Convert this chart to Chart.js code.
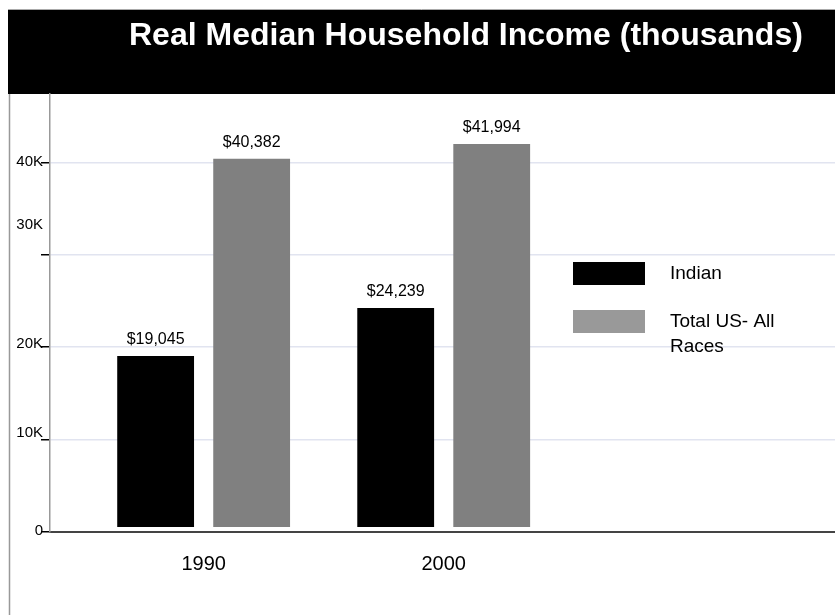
<!DOCTYPE html>
<html>
<head>
<meta charset="utf-8">
<script src="https://cdn.jsdelivr.net/npm/chart.js@4.4.1/dist/chart.umd.min.js"></script>
<style>
  body { margin: 0; background: #fff; }
</style>
</head>
<body>
<canvas id="incomeChart" width="835" height="615"></canvas>
<script>
// data
var years = [1990, 2000];
var indianIncome = [19045, 24239];
var totalUsIncome = [40382, 41994];
var seriesNames = ['Indian', 'Total US- All Races'];
var yTickValues = [0, 10000, 20000, 30000, 40000];
var yTickLabels = ['0', '10K', '20K', '30K', '40K'];
var chartTitle = 'Real Median Household Income (thousands)';

var FONT = '"Liberation Sans", Arial, sans-serif';
// the original puts some y labels a bit off their tick
var yLabelNudge = [-1, -7, -3, -30, -1];

function money(v) {
  return '$' + v.toLocaleString('en-US');
}

// black title band, outer frame line, title text
var frame = {
  id: 'frame',
  beforeDraw: function(chart) {
    var ctx = chart.ctx;
    ctx.save();
    ctx.fillStyle = '#000';
    ctx.fillRect(8, 10, chart.width - 8, 84);
    ctx.strokeStyle = '#aaa';
    ctx.lineWidth = 1;
    ctx.beginPath();
    ctx.moveTo(8, 9.5); ctx.lineTo(chart.width, 9.5);
    ctx.stroke();
    ctx.lineWidth = 1.5;
    ctx.strokeStyle = '#999';
    ctx.beginPath();
    ctx.moveTo(9.5, 94); ctx.lineTo(9.5, chart.height);
    ctx.stroke();

    ctx.fillStyle = '#fff';
    ctx.font = 'bold 32px ' + FONT;
    ctx.textAlign = 'left';
    ctx.textBaseline = 'middle';
    ctx.fillText(chartTitle, 129, 36);
    ctx.restore();
  }
};

// y labels, value labels above bars, legend on the right
var extras = {
  id: 'extras',
  afterDraw: function(chart) {
    var ctx = chart.ctx;
    var y = chart.scales.y;
    ctx.save();
    ctx.fillStyle = '#000';
    ctx.font = '15px ' + FONT;
    ctx.textAlign = 'right';
    ctx.textBaseline = 'middle';
    for (var i = 0; i < yTickValues.length; i++) {
      ctx.fillText(yTickLabels[i], 43, y.getPixelForValue(yTickValues[i]) + yLabelNudge[i]);
    }

    ctx.font = '16px ' + FONT;
    ctx.textAlign = 'center';
    ctx.textBaseline = 'bottom';
    chart.data.datasets.forEach(function(ds, di) {
      var meta = chart.getDatasetMeta(di);
      meta.data.forEach(function(bar, j) {
        ctx.fillText(money(ds.data[j].y), bar.x, bar.y - 8);
      });
    });

    // legend
    var legendTop = [262, 310];
    ctx.font = '19px ' + FONT;
    ctx.textAlign = 'left';
    ctx.textBaseline = 'middle';
    chart.data.datasets.forEach(function(ds, di) {
      ctx.fillStyle = ds.legendColor;
      ctx.fillRect(573, legendTop[di], 72, 23);
      ctx.fillStyle = '#000';
      var words = ds.label.split(' ');
      var lines = [];
      var line = '';
      words.forEach(function(w) {
        var test = line ? line + ' ' + w : w;
        if (line && ctx.measureText(test).width > 125) {
          lines.push(line);
          line = w;
        } else {
          line = test;
        }
      });
      lines.push(line);
      lines.forEach(function(t, k) {
        ctx.fillText(t, 670, legendTop[di] + 11.5 + k * 25);
      });
    });
    ctx.restore();
  }
};

new Chart(document.getElementById('incomeChart'), {
  type: 'bar',
  data: {
    datasets: [
      {
        label: seriesNames[0],
        data: years.map(function(yr, i) { return { x: yr, y: indianIncome[i] }; }),
        backgroundColor: '#000000',
        legendColor: '#000000',
        base: 550
      },
      {
        label: seriesNames[1],
        data: years.map(function(yr, i) { return { x: yr, y: totalUsIncome[i] }; }),
        backgroundColor: '#808080',
        legendColor: '#999999',
        base: 550
      }
    ]
  },
  options: {
    responsive: false,
    animation: false,
    barPercentage: 0.8,
    categoryPercentage: 0.8,
    layout: { padding: { left: 10, top: 94, right: 0, bottom: 0 } },
    plugins: {
      legend: { display: false },
      title: { display: false },
      tooltip: { enabled: false }
    },
    scales: {
      x: {
        type: 'linear',
        offset: false,
        min: 1983.6,
        max: 2016.3,
        afterBuildTicks: function(s) {
          s.ticks = years.map(function(v) { return { value: v }; });
        },
        afterFit: function(s) { s.height = 83; },
        grid: { display: false, drawTicks: false },
        border: { color: '#444', width: 2 },
        ticks: {
          color: '#000',
          font: { family: FONT, size: 20 },
          padding: 20,
          maxRotation: 0,
          callback: function(v) { return String(v); }
        }
      },
      y: {
        min: 0,
        max: 47400,
        afterBuildTicks: function(s) {
          s.ticks = yTickValues.map(function(v) { return { value: v }; });
        },
        afterFit: function(s) { s.width = 40; },
        grid: {
          color: '#e1e4f0',
          lineWidth: 1.5,
          tickColor: '#000',
          tickLength: 9,
          tickWidth: 1.5
        },
        border: { color: '#999', width: 1.5 },
        ticks: { display: false }
      }
    }
  },
  plugins: [frame, extras]
});
</script>
</body>
</html>
